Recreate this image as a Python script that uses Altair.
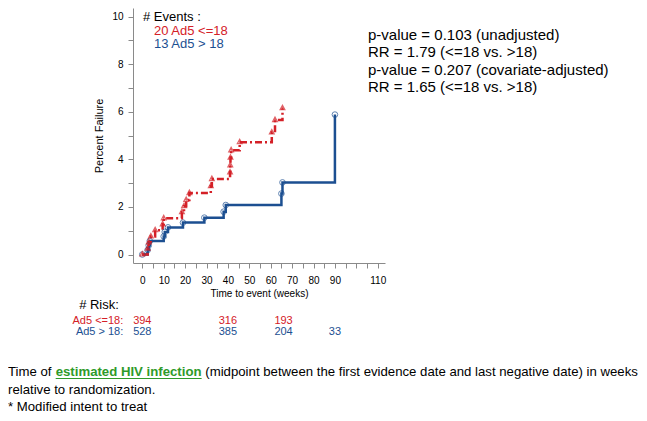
import altair as alt
import pandas as pd

# ---------------- data ----------------
red_weeks = [0, 2.5, 3, 4, 6, 9.5, 10, 18.5, 19.5, 20.5, 22, 32, 32.5, 41, 41.1, 41.2, 41.5, 45.5, 60.5, 62, 65.5]
red_pct = [0, 0.25, 0.51, 0.76, 1.02, 1.27, 1.52, 1.78, 2.03, 2.29, 2.58, 2.87, 3.17, 3.45, 3.75, 4.07, 4.38, 4.72, 5.13, 5.65, 6.15]

blue_weeks = [0, 2.5, 3, 3.5, 10, 10.5, 12, 19, 29, 38, 39, 65, 65.5, 90]
blue_pct = [0, 0.19, 0.38, 0.57, 0.76, 0.95, 1.14, 1.34, 1.55, 1.8, 2.08, 2.56, 3.03, 5.88]

risk_red_weeks = [0, 40, 66]
risk_red_n = ["394", "316", "193"]
risk_blue_weeks = [0, 40, 66, 90]
risk_blue_n = ["528", "385", "204", "33"]

x_ticks = list(range(0, 115, 5))
y_ticks = list(range(0, 11))

stats_lines = [
    "p-value = 0.103 (unadjusted)",
    "RR = 1.79 (<=18 vs. >18)",
    "p-value = 0.207 (covariate-adjusted)",
    "RR = 1.65 (<=18 vs. >18)",
]

RED = "#d42027"
BLUE = "#1c4f91"
GREEN = "#2f9a2a"
AXC = "#8a8a8a"
FONT = "Liberation Sans"
FN = 13.2  # footnote font size

df_red = pd.DataFrame({"week": red_weeks, "pct": red_pct})
df_blue = pd.DataFrame({"week": blue_weeks, "pct": blue_pct})
df_rr = pd.DataFrame({"week": risk_red_weeks, "n": risk_red_n})
df_rb = pd.DataFrame({"week": risk_blue_weeks, "n": risk_blue_n})

xscale = alt.Scale(domain=[-4.35, 113.4], nice=False, zero=False)
yscale = alt.Scale(domain=[-0.357, 10.36], nice=False, zero=False)

xaxis = alt.Axis(
    values=x_ticks, labelExpr="(datum.value % 10 == 0 && datum.value != 100) ? datum.label : ''",
    grid=False, domainColor=AXC, tickColor=AXC, tickSize=5, labelPadding=7,
    labelFontSize=10, labelFont=FONT, labelColor="black",
    title="Time to event (weeks)", titleFontSize=10, titleFont=FONT,
    titleFontWeight="normal", titlePadding=3, titleColor="black", format="d",
)
yaxis = alt.Axis(
    values=y_ticks, labelExpr="(datum.value % 2 == 0) ? datum.label : ''",
    grid=False, domainColor=AXC, tickColor=AXC, tickSize=5, labelPadding=5,
    labelFontSize=10, labelFont=FONT, labelColor="black",
    title="Percent Failure", titleFontSize=11, titleFont=FONT,
    titleFontWeight="normal", titlePadding=7, titleColor="black", format="d",
)

X = alt.X("week:Q", scale=xscale, axis=xaxis)
Y = alt.Y("pct:Q", scale=yscale, axis=yaxis)

blue_line = alt.Chart(df_blue).mark_line(
    interpolate="step-after", color=BLUE, strokeWidth=2.5
).encode(x=X, y=Y)
red_line = alt.Chart(df_red).mark_line(
    interpolate="step-after", color=RED, strokeWidth=2.5, strokeDash=[7, 3, 2, 3]
).encode(x=X, y=Y)
blue_pts = alt.Chart(df_blue).mark_point(
    shape="circle", filled=False, color=BLUE, size=32, strokeWidth=1
).encode(x=X, y=Y)
red_pts = alt.Chart(df_red).mark_point(
    shape="M0,-1L0.8,0.5L-0.8,0.5Z M0,-0.55L0,0.5", filled=False, color=RED,
    size=36, strokeWidth=1.2
).encode(x=X, y=Y)


def txt(s, x, y, color="black", size=14, align="left", weight="normal", font=FONT):
    return alt.Chart(alt.Data(values=[{}])).mark_text(
        text=s, align=align, baseline="middle", fontSize=size, color=color,
        fontWeight=weight, font=font,
    ).encode(x=alt.value(x), y=alt.value(y))


layers = [blue_line, red_line, blue_pts, red_pts]

# events legend
layers += [
    txt("# Events :", 10, 9, size=13),
    txt("20 Ad5 <=18", 21, 22.5, color=RED, size=13),
    txt("13 Ad5 > 18", 21, 36, color=BLUE, size=13),
]
# stats
for s, yy in zip(stats_lines, [27, 44.3, 62, 78.7]):
    layers.append(txt(s, 235, yy, size=15))

# risk table
layers += [
    txt("# Risk:", -34, 297, size=13, align="center"),
    txt("Ad5 <=18:", -9.7, 313, color=RED, size=11, align="right"),
    txt("Ad5 > 18:", -9.7, 323.7, color=BLUE, size=11, align="right"),
    alt.Chart(df_rr).mark_text(fontSize=11, color=RED, font=FONT, baseline="middle").encode(
        x=alt.X("week:Q", scale=xscale, axis=xaxis), y=alt.value(313), text="n:N"),
    alt.Chart(df_rb).mark_text(fontSize=11, color=BLUE, font=FONT, baseline="middle").encode(
        x=alt.X("week:Q", scale=xscale, axis=xaxis), y=alt.value(323.7), text="n:N"),
]

# footnote (positions follow Arial/Liberation metrics at size FN)
bold_left = -125 + 3.612 * FN
bold_right = bold_left + 11.058 * FN
layers += [
    txt("Time of", -125, 364, size=FN),
    txt("estimated HIV infection", bold_left, 364, color=GREEN, size=FN, weight="bold"),
    txt("(midpoint between the first evidence date and last negative date) in weeks",
        bold_right + 0.278 * FN, 364, size=FN),
    txt("relative to randomization.", -125, 382, size=FN),
    txt("* Modified intent to treat", -125, 399, size=FN),
    alt.Chart(alt.Data(values=[{}])).mark_rule(color=GREEN, strokeWidth=1.2).encode(
        x=alt.value(bold_left), x2=alt.value(bold_right), y=alt.value(370.5)),
]

chart = alt.layer(*layers).properties(
    width=252, height=255,
    autosize=alt.AutoSizeParams(type="none"),
    padding={"left": 125, "top": 0, "right": 254, "bottom": 150},
).configure_view(stroke=None).configure_axis(grid=False)

chart.save("out.html", embed_options={"renderer": "svg", "actions": False})
